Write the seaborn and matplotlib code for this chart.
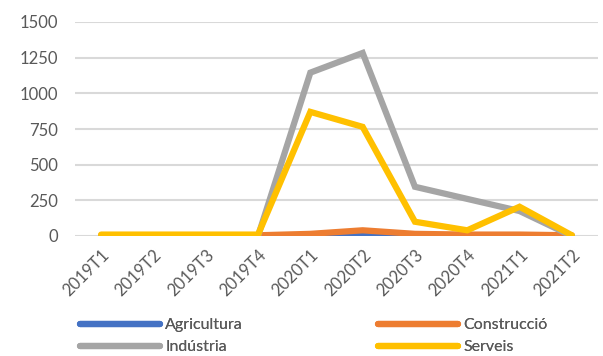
import pandas as pd
import seaborn as sns
from matplotlib import pyplot as plt

trimestres = ['2019T1', '2019T2', '2019T3', '2019T4', '2020T1',
              '2020T2', '2020T3', '2020T4', '2021T1', '2021T2']
agricultura = [0, 0, 0, 0, 2, 10, 3, 1, 1, 0]
construccio = [5, 5, 5, 5, 15, 40, 15, 10, 10, 5]
industria = [0, 0, 0, 0, 1145, 1283, 345, 260, 175, 0]
serveis = [10, 10, 10, 10, 870, 765, 100, 40, 205, 5]

sectors = ['Agricultura', 'Construcció', 'Indústria', 'Serveis']
colors = ['#4472c4', '#ed7d31', '#a5a5a5', '#ffc000']

df = pd.DataFrame({'trimestre': trimestres * 4,
                   'pos': list(range(len(trimestres))) * 4,
                   'valor': agricultura + construccio + industria + serveis,
                   'sector': [s for s in sectors for _ in trimestres]})

sns.set_style('white')
plt.rcParams['font.family'] = ['Lato', 'DejaVu Sans']

fig = plt.figure(figsize=(6.03, 3.56), dpi=100)
ax = fig.add_axes([75 / 603, 1 - 236 / 356, (598 - 75) / 603, (236 - 22) / 356])

sns.lineplot(data=df, x='pos', y='valor', hue='sector', palette=colors,
             hue_order=sectors, linewidth=4.5, ax=ax, legend=False,
             solid_capstyle='round', solid_joinstyle='miter')

ax.set_xlim(-0.5, len(trimestres) - 0.5)
ax.set_ylim(0, 1500)
ax.set_yticks(range(0, 1501, 250))
ax.set_xticks(range(len(trimestres)))
ax.set_xticklabels(trimestres, rotation=45, ha='right', rotation_mode='anchor')
ax.tick_params(axis='both', length=0, labelsize=12, colors='#595959')
ax.tick_params(axis='y', pad=12)
ax.tick_params(axis='x', pad=8)
ax.yaxis.grid(True, color='#d9d9d9', linewidth=1.5)
ax.set_axisbelow(True)
for s in ax.spines.values():
    s.set_visible(False)
ax.set_xlabel('')
ax.set_ylabel('')

# llegenda a sota: dues columnes, cadascuna com a llegenda pròpia
lines = ax.get_lines()
for cols, x0 in [((0, 2), 80), ((1, 3), 378)]:
    leg = fig.legend([lines[i] for i in cols], [sectors[i] for i in cols],
                     loc='upper left', bbox_to_anchor=(x0 / 603, 1 - 318 / 356),
                     frameon=False, handlelength=5.0, handletextpad=0.35,
                     labelspacing=0.5, fontsize=11.5, labelcolor='#595959',
                     borderpad=0, borderaxespad=0)
    fig.add_artist(leg)

fig.savefig('out.png', dpi=100)
